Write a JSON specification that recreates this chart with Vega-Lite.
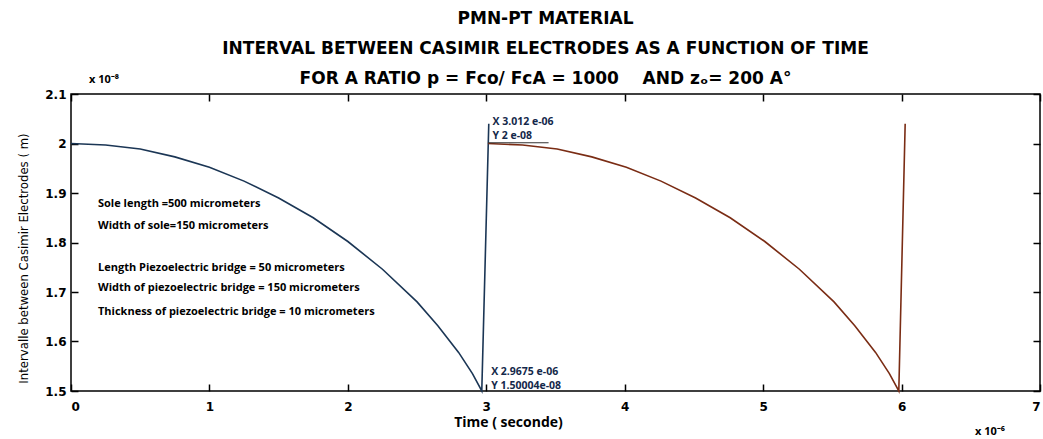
{
  "$schema": "https://vega.github.io/schema/vega-lite/v6.json",
  "width": 969,
  "height": 297,
  "autosize": {"type": "none"},
  "padding": {"left": 71, "top": 94, "right": 3, "bottom": 48},
  "background": "white",
  "title": {
    "text": ["PMN-PT MATERIAL", "INTERVAL BETWEEN CASIMIR ELECTRODES AS A FUNCTION OF TIME", "FOR A RATIO p = Fco/ FcA = 1000\u00a0\u00a0\u00a0\u00a0AND zₒ= 200 A°"],
    "font": "DejaVu Sans",
    "fontSize": 17,
    "fontWeight": "bold",
    "lineHeight": 30,
    "anchor": "middle",
    "offset": -14,
    "dx": -10,
    "color": "black"
  },
  "config": {
    "view": {"stroke": "black", "strokeWidth": 1.5},
    "axis": {
      "grid": false,
      "domain": false,
      "tickColor": "black",
      "tickSize": -7,
      "tickWidth": 1.5,
      "labelFont": "DejaVu Sans",
      "labelFontWeight": "bold",
      "labelFontSize": 12,
      "labelColor": "black"
    }
  },
  "datasets": {
    "curves": [
      {"series": "blue", "i": 0, "t": 0.0, "v": 2.0},
      {"series": "blue", "i": 1, "t": 0.25, "v": 1.997},
      {"series": "blue", "i": 2, "t": 0.5, "v": 1.989},
      {"series": "blue", "i": 3, "t": 0.75, "v": 1.973},
      {"series": "blue", "i": 4, "t": 1.0, "v": 1.952},
      {"series": "blue", "i": 5, "t": 1.25, "v": 1.924},
      {"series": "blue", "i": 6, "t": 1.5, "v": 1.89},
      {"series": "blue", "i": 7, "t": 1.75, "v": 1.85},
      {"series": "blue", "i": 8, "t": 2.0, "v": 1.802},
      {"series": "blue", "i": 9, "t": 2.25, "v": 1.746},
      {"series": "blue", "i": 10, "t": 2.5, "v": 1.68},
      {"series": "blue", "i": 11, "t": 2.65, "v": 1.632},
      {"series": "blue", "i": 12, "t": 2.8, "v": 1.578},
      {"series": "blue", "i": 13, "t": 2.9, "v": 1.535},
      {"series": "blue", "i": 14, "t": 2.9675, "v": 1.5},
      {"series": "blue", "i": 15, "t": 3.018, "v": 2.04},
      {"series": "red", "i": 0, "t": 3.012, "v": 2.0},
      {"series": "red", "i": 1, "t": 3.262, "v": 1.997},
      {"series": "red", "i": 2, "t": 3.512, "v": 1.989},
      {"series": "red", "i": 3, "t": 3.762, "v": 1.973},
      {"series": "red", "i": 4, "t": 4.012, "v": 1.952},
      {"series": "red", "i": 5, "t": 4.262, "v": 1.924},
      {"series": "red", "i": 6, "t": 4.512, "v": 1.89},
      {"series": "red", "i": 7, "t": 4.762, "v": 1.85},
      {"series": "red", "i": 8, "t": 5.012, "v": 1.802},
      {"series": "red", "i": 9, "t": 5.262, "v": 1.746},
      {"series": "red", "i": 10, "t": 5.512, "v": 1.68},
      {"series": "red", "i": 11, "t": 5.662, "v": 1.632},
      {"series": "red", "i": 12, "t": 5.812, "v": 1.578},
      {"series": "red", "i": 13, "t": 5.912, "v": 1.535},
      {"series": "red", "i": 14, "t": 5.98, "v": 1.5},
      {"series": "red", "i": 15, "t": 6.026, "v": 2.04}
    ],
    "notes": [
      {"t": 0.195, "v": 1.878, "label": "Sole length =500  micrometers"},
      {"t": 0.195, "v": 1.833, "label": "Width of sole=150  micrometers"},
      {"t": 0.195, "v": 1.748, "label": "Length Piezoelectric bridge = 50  micrometers"},
      {"t": 0.195, "v": 1.708, "label": "Width of piezoelectric bridge = 150 micrometers"},
      {"t": 0.195, "v": 1.66, "label": "Thickness of piezoelectric bridge = 10  micrometers"}
    ],
    "tips": [
      {"t": 3.045, "v": 2.037, "label": "X 3.012 e-06"},
      {"t": 3.045, "v": 2.01, "label": "Y 2 e-08"},
      {"t": 3.035, "v": 1.532, "label": "X 2.9675 e-06"},
      {"t": 3.035, "v": 1.505, "label": "Y 1.50004e-08"}
    ],
    "tipline": [
      {"t": 3.012, "t2": 3.45, "v": 2.0015}
    ],
    "exp8": [{"t": 0.13, "v": 2.1, "label": "x 10⁻⁸"}],
    "exp6": [{"t": 6.53, "v": 1.5, "label": "x 10⁻⁶"}]
  },
  "resolve": {"axis": {"x": "independent", "y": "independent"}},
  "layer": [
    {
      "data": {"name": "curves"},
      "mark": {"type": "line", "strokeWidth": 1.6},
      "encoding": {
        "x": {
          "field": "t", "type": "quantitative",
          "scale": {"domain": [0, 7], "nice": false, "zero": false},
          "axis": {
            "values": [0, 1, 2, 3, 4, 5, 6, 7],
            "labelPadding": 17,
            "title": "Time ( seconde)",
            "titleFont": "Open Sans",
            "titleFontWeight": "bold",
            "titleFontSize": 14,
            "titleColor": "black",
            "titlePadding": 3,
            "titleX": 437
          }
        },
        "y": {
          "field": "v", "type": "quantitative",
          "scale": {"domain": [1.5, 2.1], "nice": false, "zero": false},
          "axis": {
            "values": [1.5, 1.6, 1.7, 1.8, 1.9, 2.0, 2.1],
            "labelExpr": "datum.value == 2 ? '2' : format(datum.value, '.1f')",
            "labelPadding": 12,
            "title": "Intervalle between Casimir Electrodes ( m)",
            "titleFont": "Liberation Sans Narrow, DejaVu Sans Condensed, sans-serif",
            "titleFontWeight": 500,
            "titleFontSize": 13,
            "titleColor": "black",
            "titlePadding": 14,
            "titleY": 164
          }
        },
        "color": {
          "field": "series", "type": "nominal",
          "scale": {"domain": ["blue", "red"], "range": ["#1b3655", "#7a2c14"]},
          "legend": null
        },
        "order": {"field": "i", "type": "quantitative"}
      }
    },
    {
      "data": {"name": "curves"},
      "mark": {"type": "point", "opacity": 0},
      "encoding": {
        "x": {
          "field": "t", "type": "quantitative",
          "scale": {"domain": [0, 7], "nice": false, "zero": false},
          "axis": {"orient": "top", "values": [0, 1, 2, 3, 4, 5, 6, 7], "labels": false, "title": null}
        },
        "y": {
          "field": "v", "type": "quantitative",
          "scale": {"domain": [1.5, 2.1], "nice": false, "zero": false},
          "axis": {"orient": "right", "values": [1.5, 1.6, 1.7, 1.8, 1.9, 2.0, 2.1], "labels": false, "title": null}
        }
      }
    },
    {
      "data": {"name": "tipline"},
      "mark": {"type": "rule", "color": "#333333", "strokeWidth": 1},
      "encoding": {
        "x": {"field": "t", "type": "quantitative", "axis": null},
        "x2": {"field": "t2"},
        "y": {"field": "v", "type": "quantitative", "axis": null}
      }
    },
    {
      "data": {"name": "notes"},
      "mark": {"type": "text", "align": "left", "baseline": "middle", "font": "Open Sans", "fontWeight": "bold", "fontSize": 11, "color": "black"},
      "encoding": {
        "x": {"field": "t", "type": "quantitative", "axis": null},
        "y": {"field": "v", "type": "quantitative", "axis": null},
        "text": {"field": "label"}
      }
    },
    {
      "data": {"name": "tips"},
      "mark": {"type": "text", "align": "left", "baseline": "alphabetic", "font": "Open Sans", "fontWeight": "bold", "fontSize": 10.5, "color": "#14284a"},
      "encoding": {
        "x": {"field": "t", "type": "quantitative", "axis": null},
        "y": {"field": "v", "type": "quantitative", "axis": null},
        "text": {"field": "label"}
      }
    },
    {
      "data": {"name": "exp8"},
      "mark": {"type": "text", "align": "left", "baseline": "middle", "dy": -14, "font": "Open Sans", "fontWeight": "bold", "fontSize": 11, "color": "black"},
      "encoding": {
        "x": {"field": "t", "type": "quantitative", "axis": null},
        "y": {"field": "v", "type": "quantitative", "axis": null},
        "text": {"field": "label"}
      }
    },
    {
      "data": {"name": "exp6"},
      "mark": {"type": "text", "align": "left", "baseline": "middle", "dy": 41, "font": "Open Sans", "fontWeight": "bold", "fontSize": 11, "color": "black"},
      "encoding": {
        "x": {"field": "t", "type": "quantitative", "axis": null},
        "y": {"field": "v", "type": "quantitative", "axis": null},
        "text": {"field": "label"}
      }
    }
  ]
}
